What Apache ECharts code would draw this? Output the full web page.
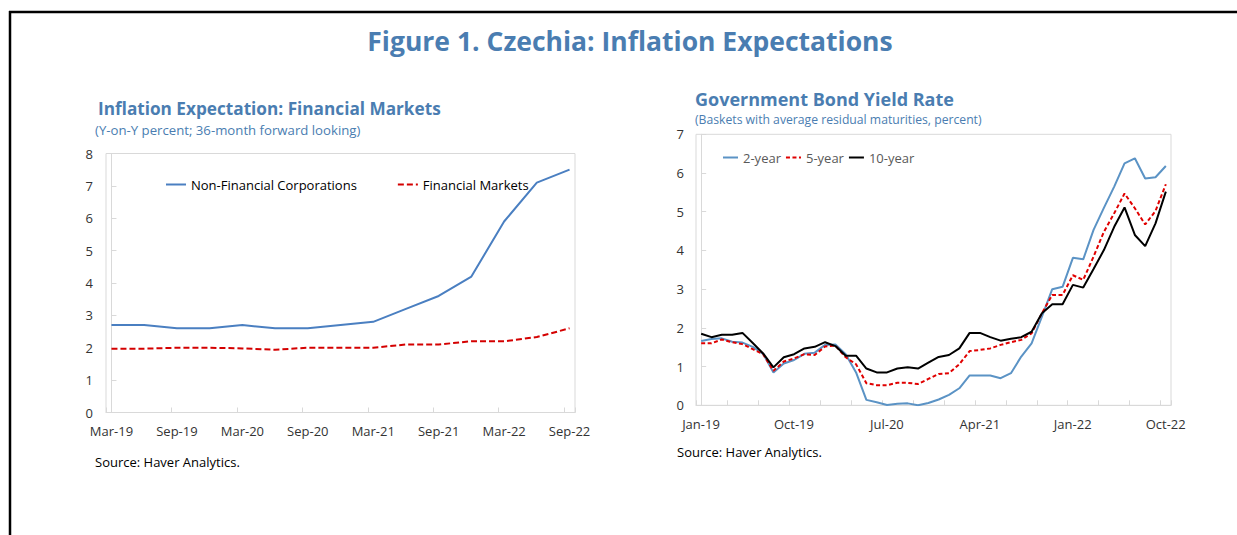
<!DOCTYPE html>
<html><head><meta charset="utf-8">
<script src="https://cdn.jsdelivr.net/npm/echarts@6/dist/echarts.min.js"></script>
<style>html,body{margin:0;padding:0;background:#fff}#c{width:1237px;height:535px}</style>
</head><body><div id="c"></div>
<script>
// ---- Left chart data (quarterly) ----
const quarterLabels = ['Mar-19','Jun-19','Sep-19','Dec-19','Mar-20','Jun-20','Sep-20','Dec-20','Mar-21','Jun-21','Sep-21','Dec-21','Mar-22','Jun-22','Sep-22'];
const nonFinancialCorps = [2.7,2.7,2.6,2.6,2.7,2.6,2.6,2.7,2.8,3.2,3.6,4.2,5.9,7.1,7.5];
const financialMarkets = [1.97,1.97,2.0,2.0,1.98,1.94,2.0,2.0,2.0,2.1,2.1,2.2,2.2,2.33,2.6];
const leftYTicks = [0,1,2,3,4,5,6,7,8];

// ---- Right chart data (monthly) ----
const monthLabels = ['Jan-19','Feb-19','Mar-19','Apr-19','May-19','Jun-19','Jul-19','Aug-19','Sep-19','Oct-19','Nov-19','Dec-19',
  'Jan-20','Feb-20','Mar-20','Apr-20','May-20','Jun-20','Jul-20','Aug-20','Sep-20','Oct-20','Nov-20','Dec-20',
  'Jan-21','Feb-21','Mar-21','Apr-21','May-21','Jun-21','Jul-21','Aug-21','Sep-21','Oct-21','Nov-21','Dec-21',
  'Jan-22','Feb-22','Mar-22','Apr-22','May-22','Jun-22','Jul-22','Aug-22','Sep-22','Oct-22'];
const yield2y = [1.66,1.71,1.73,1.64,1.62,1.51,1.33,0.85,1.08,1.17,1.33,1.36,1.56,1.57,1.32,0.85,0.14,0.08,0.01,0.04,0.05,0.0,0.06,0.15,0.27,0.44,0.77,0.77,0.77,0.70,0.83,1.26,1.60,2.29,3.0,3.06,3.81,3.77,4.53,5.10,5.65,6.25,6.38,5.86,5.89,6.18];
const yield5y = [1.60,1.60,1.70,1.63,1.58,1.45,1.32,0.89,1.13,1.21,1.32,1.30,1.52,1.54,1.24,1.06,0.57,0.52,0.52,0.58,0.58,0.55,0.68,0.81,0.83,1.06,1.40,1.43,1.47,1.56,1.63,1.69,1.86,2.38,2.85,2.85,3.36,3.24,3.84,4.48,4.96,5.47,5.09,4.67,5.02,5.71];
const yield10y = [1.85,1.76,1.82,1.82,1.87,1.61,1.34,0.98,1.24,1.32,1.47,1.51,1.63,1.53,1.28,1.28,0.95,0.85,0.85,0.95,0.98,0.95,1.10,1.25,1.30,1.47,1.87,1.87,1.76,1.67,1.72,1.76,1.90,2.38,2.61,2.61,3.11,3.04,3.52,4.01,4.61,5.11,4.40,4.11,4.70,5.52];
const rightYTicks = [0,1,2,3,4,5,6,7];

const FONT = "'Open Sans', sans-serif";
const TITLE_BLUE = '#4a7db1';
const AXIS_GRAY = '#d9d9d9';
const LABEL_COLOR = '#333333';

const chart = echarts.init(document.getElementById('c'), null, {renderer: 'svg'});

function monthOf(v) { return Math.round(v + 0.5); }

const option = {
  animation: false,
  backgroundColor: '#fff',
  textStyle: {fontFamily: FONT},
  graphic: [
    {type: 'line', shape: {x1: 9, y1: 12, x2: 1237, y2: 12}, style: {stroke: '#000', lineWidth: 2.5}},
    {type: 'line', shape: {x1: 10, y1: 11, x2: 10, y2: 535}, style: {stroke: '#000', lineWidth: 2.5}},
    {type: 'text', x: 630, y: 41, style: {text: 'Figure 1. Czechia: Inflation Expectations', font: "bold 26.5px " + FONT, fill: TITLE_BLUE, textAlign: 'center', textVerticalAlign: 'middle'}},
    {type: 'text', x: 98, y: 108, style: {text: 'Inflation Expectation: Financial Markets', font: "bold 17.2px " + FONT, fill: TITLE_BLUE, textAlign: 'left', textVerticalAlign: 'middle'}},
    {type: 'text', x: 95, y: 130, style: {text: '(Y-on-Y percent; 36-month forward looking)', font: "13.2px " + FONT, fill: TITLE_BLUE, textAlign: 'left', textVerticalAlign: 'middle'}},
    {type: 'text', x: 695, y: 99, style: {text: 'Government Bond Yield Rate', font: "bold 18px " + FONT, fill: TITLE_BLUE, textAlign: 'left', textVerticalAlign: 'middle'}},
    {type: 'text', x: 695, y: 119, style: {text: '(Baskets with average residual maturities, percent)', font: "12.2px " + FONT, fill: TITLE_BLUE, textAlign: 'left', textVerticalAlign: 'middle'}},
    {type: 'text', x: 95, y: 462, style: {text: 'Source: Haver Analytics.', font: "13px " + FONT, fill: '#000', textAlign: 'left', textVerticalAlign: 'middle'}},
    {type: 'text', x: 677, y: 452, style: {text: 'Source: Haver Analytics.', font: "13px " + FONT, fill: '#000', textAlign: 'left', textVerticalAlign: 'middle'}}
  ],
  legend: [
    {data: ['Non-Financial Corporations', 'Financial Markets'], left: 165, top: 178, itemWidth: 20, itemHeight: 10, itemGap: 40, padding: 0,
     itemStyle: {opacity: 0}, textStyle: {fontSize: 13, color: '#000', fontFamily: FONT}},
    {data: ['2-year', '5-year', '10-year'], left: 722, top: 151, itemWidth: 15, itemHeight: 10, itemGap: 4, padding: 0,
     itemStyle: {opacity: 0}, textStyle: {fontSize: 13, color: '#595959', fontFamily: FONT}}
  ],
  grid: [
    {left: 106, top: 153.5, width: 469, height: 259, show: true, borderColor: AXIS_GRAY, borderWidth: 1, containLabel: false},
    {left: 696, top: 134.3, width: 475, height: 271, show: true, borderColor: AXIS_GRAY, borderWidth: 1, containLabel: false}
  ],
  xAxis: [
    {type: 'value', gridIndex: 0, min: -0.5, max: 42.5, interval: 6,
     axisLine: {show: true, lineStyle: {color: AXIS_GRAY}},
     axisTick: {show: true, inside: true, length: 5, lineStyle: {color: AXIS_GRAY}},
     splitLine: {show: false},
     axisLabel: {margin: 12, padding: [0, 0, 0, 11], color: LABEL_COLOR, fontSize: 13, fontFamily: FONT,
       formatter: function (v) { const m = monthOf(v); if (m % 3 !== 0) return ''; const q = m / 3; return quarterLabels[q] || ''; }}},
    {type: 'value', gridIndex: 1, min: -0.5, max: 45.5, interval: 3,
     axisLine: {show: true, lineStyle: {color: AXIS_GRAY}},
     axisTick: {show: true, inside: true, length: 5, lineStyle: {color: AXIS_GRAY}},
     splitLine: {show: false},
     axisLabel: {margin: 12, padding: [0, 0, 0, 10], color: LABEL_COLOR, fontSize: 13, fontFamily: FONT,
       formatter: function (v) { const m = monthOf(v); if (m % 9 !== 0) return ''; return monthLabels[m] || ''; }}}
  ],
  yAxis: [
    {type: 'value', gridIndex: 0, min: leftYTicks[0], max: leftYTicks[leftYTicks.length - 1], interval: 1,
     axisLine: {show: true, lineStyle: {color: AXIS_GRAY}},
     axisTick: {show: true, inside: true, length: 5, lineStyle: {color: AXIS_GRAY}},
     splitLine: {show: false},
     axisLabel: {margin: 13, color: LABEL_COLOR, fontSize: 13, fontFamily: FONT}},
    {type: 'value', gridIndex: 1, min: rightYTicks[0], max: rightYTicks[rightYTicks.length - 1], interval: 1,
     axisLine: {show: true, lineStyle: {color: AXIS_GRAY}},
     axisTick: {show: true, inside: true, length: 5, lineStyle: {color: AXIS_GRAY}},
     splitLine: {show: false},
     axisLabel: {margin: 12, color: LABEL_COLOR, fontSize: 13, fontFamily: FONT}}
  ],
  series: [
    {name: 'Non-Financial Corporations', type: 'line', xAxisIndex: 0, yAxisIndex: 0, symbol: 'none',
     data: nonFinancialCorps.map((v, i) => [i * 3, v]), lineStyle: {color: '#4a7fc1', width: 2}, itemStyle: {color: '#4a7fc1'}},
    {name: 'Financial Markets', type: 'line', xAxisIndex: 0, yAxisIndex: 0, symbol: 'none',
     data: financialMarkets.map((v, i) => [i * 3, v]), lineStyle: {color: '#d40000', width: 2, type: [6, 3]}, itemStyle: {color: '#d40000'}},
    {name: '2-year', type: 'line', xAxisIndex: 1, yAxisIndex: 1, symbol: 'none',
     data: yield2y.map((v, i) => [i, v]), lineStyle: {color: '#5b93c5', width: 2}, itemStyle: {color: '#5b93c5'}},
    {name: '5-year', type: 'line', xAxisIndex: 1, yAxisIndex: 1, symbol: 'none',
     data: yield5y.map((v, i) => [i, v]), lineStyle: {color: '#e00000', width: 2, type: [4, 2.5]}, itemStyle: {color: '#e00000'}},
    {name: '10-year', type: 'line', xAxisIndex: 1, yAxisIndex: 1, symbol: 'none',
     data: yield10y.map((v, i) => [i, v]), lineStyle: {color: '#000', width: 2}, itemStyle: {color: '#000'}}
  ]
};
chart.setOption(option);
</script>
</body></html>
